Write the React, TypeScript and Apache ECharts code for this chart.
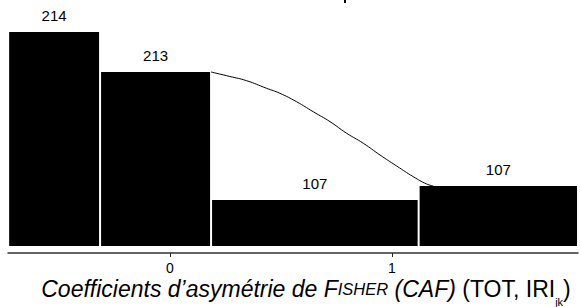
import React, { useEffect, useRef } from "react";
import * as echarts from "echarts";

// histogram bin edges (x units of the axis) and bar heights (y units)
const binEdges = [-0.729, -0.315, 0.185, 1.12, 1.838];
const barHeights = [214, 174, 46, 60];
const barLabels = ["214", "213", "107", "107"];

// fitted curve drawn over the bars
const curveX = [0.185, 0.27, 0.345, 0.435, 0.495, 0.57, 0.645, 0.721, 0.796, 0.871, 0.946, 1.021, 1.096, 1.156, 1.186];
const curveY = [174, 169.5, 165.3, 157.7, 152.7, 144.3, 134.3, 124.3, 112.7, 102.7, 91, 80, 69.3, 62, 60];

const tickValues = [0, 1];
const tickLabels = ["0", "1"];

const FONT = '"Liberation Sans", Arial, Helvetica, sans-serif';

export default function App() {
  const ref = useRef<HTMLDivElement>(null);

  useEffect(() => {
    if (!ref.current) return;
    const chart = echarts.init(ref.current, undefined, { renderer: "svg" });

    const barData = barHeights.map((h, i) => [binEdges[i], binEdges[i + 1], h]);
    const curveData = curveX.map((x, i) => [x, curveY[i]]);

    chart.setOption({
      animation: false,
      backgroundColor: "#fff",
      grid: { left: 8, right: 3, top: 32, bottom: 54 },
      xAxis: {
        type: "value",
        min: -0.72973,
        max: 1.83784,
        splitLine: { show: false },
        axisLine: { show: true, onZero: false, lineStyle: { color: "#333", width: 1.5 } },
        axisTick: { show: true, customValues: tickValues, length: 4, lineStyle: { color: "#222", width: 1 } },
        axisLabel: {
          show: true,
          customValues: tickValues,
          formatter: (v: number) => tickLabels[tickValues.indexOf(v)] ?? "",
          margin: 8,
          fontSize: 14,
          color: "#000",
          fontFamily: FONT,
        },
      },
      yAxis: {
        type: "value",
        min: -7,
        max: 214,
        show: false,
      },
      series: [
        {
          type: "custom",
          data: barData,
          renderItem: (params: any, api: any) => {
            const x0 = api.value(0);
            const x1 = api.value(1);
            const h = api.value(2);
            const p0 = api.coord([x0, h]);
            const p1 = api.coord([x1, 0]);
            const label = barLabels[params.dataIndex];
            return {
              type: "group",
              children: [
                {
                  type: "rect",
                  shape: { x: p0[0] + 1, y: p0[1], width: p1[0] - p0[0] - 2, height: p1[1] - p0[1] },
                  style: { fill: "#000" },
                },
                {
                  type: "text",
                  x: (p0[0] + p1[0]) / 2,
                  y: p0[1] - 17,
                  style: {
                    text: label,
                    fill: "#000",
                    font: `15px ${FONT}`,
                    align: "center",
                    verticalAlign: "middle",
                  },
                },
              ],
            };
          },
          z: 2,
        },
        {
          type: "line",
          data: curveData,
          smooth: true,
          symbol: "none",
          lineStyle: { color: "#000", width: 1 },
          z: 3,
        },
      ],
      graphic: [
        {
          type: "rect",
          shape: { x: 344, y: 0, width: 2, height: 3 },
          style: { fill: "#000" },
        },
        {
          type: "text",
          x: 306,
          y: 289,
          style: {
            text: "{it|Coefficients d’asymétrie de }{scb|F}{scs|ISHER}{it| (CAF)}{n| (TOT, IRI}{sub|jk}{n|)}",
            align: "center",
            verticalAlign: "middle",
            fill: "#000",
            rich: {
              it: { fontFamily: FONT, fontStyle: "italic", fontSize: 23, lineHeight: 36, fill: "#000", color: "#000" },
              scb: { fontFamily: FONT, fontStyle: "italic", fontSize: 23, lineHeight: 36, fill: "#000", color: "#000" },
              scs: { fontFamily: FONT, fontStyle: "italic", fontSize: 16.5, lineHeight: 36, fill: "#000", color: "#000" },
              n: { fontFamily: FONT, fontSize: 23, lineHeight: 36, fill: "#000", color: "#000" },
              sub: { fontFamily: FONT, fontSize: 11, lineHeight: 11, verticalAlign: "bottom", fill: "#000", color: "#000" },
            },
          },
        },
      ],
    });

    return () => chart.dispose();
  }, []);

  return <div ref={ref} style={{ width: 581, height: 307, position: "absolute", left: 0, top: 0 }} />;
}
